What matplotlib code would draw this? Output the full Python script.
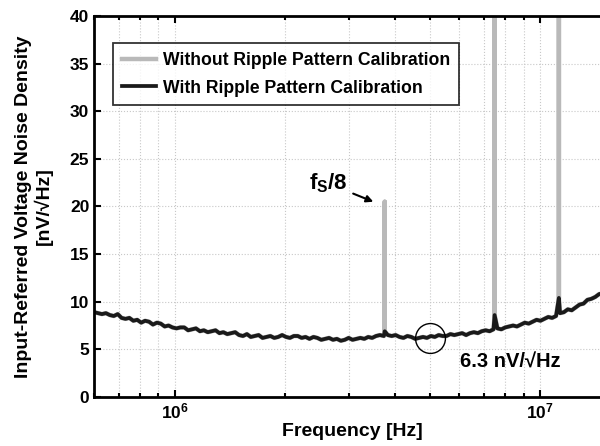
import matplotlib
matplotlib.use("Agg")
import matplotlib.pyplot as plt

plt.rcParams.update({
    "font.family": "Liberation Sans",
    "font.weight": "bold",
    "axes.labelweight": "bold",
    "mathtext.fontset": "custom",
    "mathtext.rm": "Liberation Sans:bold",
    "mathtext.it": "Liberation Sans:bold",
    "mathtext.bf": "Liberation Sans:bold",
})

freq = [6.00e5, 6.15e5, 6.30e5, 6.46e5, 6.62e5, 6.79e5, 6.96e5, 7.13e5, 7.31e5,
        7.49e5, 7.68e5, 7.87e5, 8.07e5, 8.27e5, 8.48e5, 8.69e5, 8.91e5, 9.13e5,
        9.36e5, 9.59e5, 9.83e5,
        1.008e6, 1.033e6, 1.059e6, 1.085e6, 1.112e6, 1.140e6, 1.169e6, 1.198e6,
        1.228e6, 1.259e6, 1.290e6, 1.322e6, 1.355e6, 1.389e6, 1.424e6, 1.460e6,
        1.496e6, 1.534e6, 1.572e6, 1.611e6, 1.651e6, 1.693e6, 1.735e6, 1.778e6,
        1.823e6, 1.868e6, 1.915e6, 1.963e6, 2.012e6, 2.062e6, 2.114e6, 2.167e6,
        2.221e6, 2.276e6, 2.333e6, 2.392e6, 2.451e6, 2.513e6, 2.575e6, 2.640e6,
        2.706e6, 2.773e6, 2.843e6, 2.914e6, 2.987e6, 3.061e6, 3.138e6, 3.216e6,
        3.297e6, 3.379e6, 3.464e6, 3.550e6, 3.639e6, 3.730e6, 3.750e6, 3.823e6,
        3.919e6, 4.017e6, 4.117e6, 4.220e6, 4.326e6, 4.434e6, 4.545e6, 4.658e6,
        4.775e6, 4.894e6, 5.017e6, 5.142e6, 5.271e6, 5.402e6, 5.537e6, 5.676e6,
        5.818e6, 5.963e6, 6.112e6, 6.265e6, 6.422e6, 6.582e6, 6.747e6, 6.915e6,
        7.088e6, 7.266e6, 7.447e6, 7.500e6, 7.633e6, 7.824e6, 8.020e6, 8.220e6,
        8.426e6, 8.636e6, 8.852e6, 9.074e6, 9.300e6, 9.533e6, 9.771e6,
        1.0016e7, 1.027e7, 1.052e7, 1.078e7, 1.105e7, 1.125e7, 1.133e7, 1.161e7,
        1.190e7, 1.220e7, 1.251e7, 1.282e7, 1.314e7, 1.347e7, 1.380e7, 1.415e7,
        1.450e7, 1.486e7, 1.523e7, 1.561e7]
with_cal = [8.9, 8.8, 8.7, 8.8, 8.6, 8.5, 8.7, 8.3, 8.2,
            8.3, 8.0, 8.1, 7.8, 8.0, 7.9, 7.6, 7.8, 7.7,
            7.4, 7.5, 7.3,
            7.2, 7.3, 7.3, 7.0, 7.1, 7.2, 6.9, 7.0,
            6.8, 6.9, 7.0, 6.7, 6.8, 6.6, 6.7, 6.8,
            6.5, 6.4, 6.6, 6.3, 6.4, 6.5, 6.2, 6.3,
            6.4, 6.2, 6.3, 6.5, 6.3, 6.2, 6.4, 6.4,
            6.2, 6.3, 6.1, 6.3, 6.2, 6.0, 6.1, 6.2,
            6.0, 6.1, 5.9, 6.0, 6.2, 6.0, 6.1, 6.2,
            6.1, 6.3, 6.2, 6.4, 6.5, 6.4, 6.9, 6.5,
            6.4, 6.5, 6.3, 6.2, 6.4, 6.3, 6.1, 6.2,
            6.3, 6.2, 6.4, 6.3, 6.5, 6.4, 6.4, 6.6,
            6.5, 6.6, 6.7, 6.5, 6.7, 6.8, 6.7, 6.9,
            7.0, 6.9, 7.1, 8.6, 7.2, 7.1, 7.3, 7.4,
            7.5, 7.4, 7.6, 7.8, 7.7, 7.9, 8.1,
            8.0, 8.2, 8.4, 8.3, 8.5, 10.4, 8.8, 8.9,
            9.2, 9.1, 9.4, 9.7, 9.8, 10.2, 10.3, 10.5,
            10.8, 10.9, 11.2, 11.4]

# ripple tones without calibration: fs/8, fs/4, 3fs/8
spike_freq = [3.75e6, 7.5e6, 1.125e7]
spike_top = [20.5, 60.0, 60.0]

# uncalibrated trace: same floor, tones drawn as vertical lines
tops = dict(zip(spike_freq, spike_top))
gray_f, gray_v = [], []
for f, v in zip(freq, with_cal):
    if f in tops:
        gray_f += [f, f, f]
        gray_v += [v, tops[f], v]
    else:
        gray_f.append(f)
        gray_v.append(v)

fig = plt.figure(figsize=(6, 4.46), dpi=100)
ax = fig.add_axes([0.157, 0.110, 0.86, 0.854])

ax.plot(gray_f, gray_v, color="#b9b9b9", lw=3.2,
        label="Without Ripple Pattern Calibration")
ax.plot(freq, with_cal, color="#1a1a1a", lw=2.7,
        label="With Ripple Pattern Calibration")

ax.set_xscale("log")
ax.set_xlim(6.0e5, 1.555e7)
ax.set_ylim(0, 40)
ax.set_yticks(range(0, 41, 5))
ax.grid(True, which="both", linestyle=":", color="#c8c8c8", lw=0.8)
ax.tick_params(which="both", direction="in", top=True, right=True,
               labelsize=12.5, width=1.5)
ax.tick_params(which="major", length=5)
ax.tick_params(which="minor", length=3)
for sp in ax.spines.values():
    sp.set_linewidth(2)

ax.set_xlabel("Frequency [Hz]", fontsize=14, labelpad=1)
ax.set_ylabel("Input-Referred Voltage Noise Density\n[nV/\u221aHz]",
              fontsize=14, linespacing=1.1, labelpad=12)

leg = ax.legend(loc="upper left", bbox_to_anchor=(0.037, 0.929),
                borderaxespad=0, fontsize=12.7, frameon=True, fancybox=False,
                edgecolor="black", handlelength=1.9, handletextpad=0.4,
                borderpad=0.5, labelspacing=0.6)
leg.get_frame().set_linewidth(1.3)

ax.annotate("f$_\\mathrm{S}$/8", xy=(3.49e6, 20.5), xytext=(2.33e6, 22.4),
            fontsize=16, ha="left", va="center",
            arrowprops=dict(arrowstyle="-|>", color="black", lw=1.5,
                            shrinkA=2, shrinkB=0, mutation_scale=10))

ax.plot([5.0e6], [6.2], marker="o", ms=21.5, mfc="none", mec="black", mew=1.0)
ax.text(6.03e6, 3.7, "6.3 nV/\u221aHz", fontsize=14.5, ha="left", va="center")

fig.savefig("out.png", dpi=100)
